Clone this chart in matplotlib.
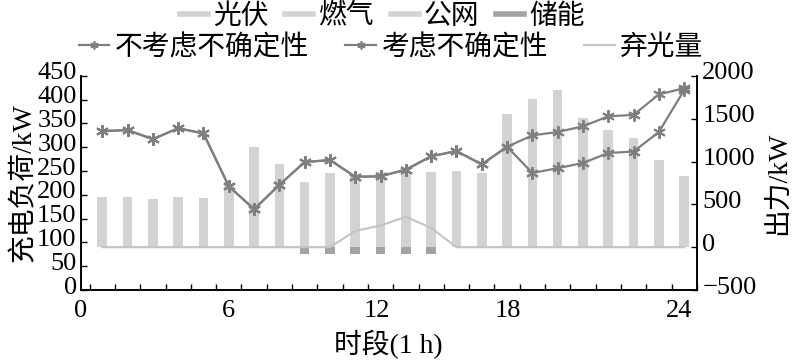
import numpy as np
import matplotlib.pyplot as plt
from matplotlib.lines import Line2D
from matplotlib.transforms import ScaledTranslation

plt.rcParams['font.family'] = ['Liberation Serif', 'Noto Sans CJK SC']
plt.rcParams['axes.unicode_minus'] = True

# hourly slots (bars and lines sit at the middle of each hour)
hours = np.arange(24) + 0.5

# output, kW (right axis)
pv = [0, 0, 0, 0, 0, 20, 80, 200, 330, 450, 520, 560, 570, 560, 520, 420, 280, 120, 20, 0, 0, 0, 0, 0]
gas = [155, 155, 155, 155, 155, 155, 155, 155, 155, 155, 155, 155, 155, 155, 155, 155, 155, 155, 155, 155, 155, 155, 155, 155]
grid = [428, 432, 412, 435, 424, 552, 931, 617, 280, 265, 165, 167, 145, 163, 215, 287, 1117, 1455, 1664, 1350, 1217, 1120, 863, 673]
storage = [0, 0, 0, 0, 0, 0, 0, 0, -75, -75, -75, -75, -75, -75, 0, 0, 0, 0, 0, 0, 0, 0, 0, 0]
curtail = [0, 0, 0, 0, 0, 0, 0, 0, 0, 0, 190, 253, 355, 225, 0, 0, 0, 0, 0, 0, 0, 0, 0, 0]

# charging load, kW (left axis)
load_no_unc = [334, 336, 317, 340, 329, 218, 170, 221, 269, 273, 238, 239, 253, 281, 292, 264, 301,
               325, 332, 344, 365, 368, 411, 424]
load_unc = [334, 336, 317, 340, 329, 218, 170, 221, 269, 273, 238, 239, 253, 281, 292, 264, 301,
            246, 256, 267, 288, 291, 332, 420]

xlabels = ['0', '6', '12', '18', '24']
xlabel_pos = [-0.35, 5.47, 11.34, 16.55, 23.3]   # labels sit left of their ticks in the original

fs = 19
bar_c = '#d3d3d3'
dark = '#a3a3a3'
line_c = '#7f7f7f'
curt_c = '#c4c4c4'

fig = plt.figure(figsize=(8, 3.63), dpi=100)
ax = fig.add_axes([0.101, 0.201, 0.770, 0.590])
ax2 = ax.twinx()
ax.set_zorder(ax2.get_zorder() + 1)
ax.patch.set_visible(False)

w = 0.38
b1 = np.array(pv)
b2 = b1 + np.array(gas)
ax2.bar(hours, pv, w, color=bar_c, edgecolor='none')
ax2.bar(hours, gas, w, bottom=b1, color=bar_c, edgecolor='none')
ax2.bar(hours, grid, w, bottom=b2, color=bar_c, edgecolor='none')
ax2.bar(hours, storage, w, color=dark, edgecolor='none')
ax2.plot(hours, curtail, color=curt_c, lw=1.5)
ax2.set_ylim(-500, 2000)
ax2.set_yticks([-500, 0, 500, 1000, 1500, 2000])

mk = (6, 2, 0)
ax.plot(hours, load_no_unc, color=line_c, lw=1.6, marker=mk, ms=9, mew=1.4)
ax.plot(hours, load_unc, color=line_c, lw=1.6, marker=mk, ms=9, mew=1.4)
ax.set_ylim(0, 450)
ax.set_yticks(np.arange(0, 451, 50))
ax.set_xlim(0, 24)

ax.set_xticks(np.arange(0, 25), minor=True)
ax.set_xticks(xlabel_pos)
ax.set_xticklabels(xlabels)
ax.tick_params(axis='x', which='major', length=0, pad=7, labelsize=fs)
ax.tick_params(axis='x', which='minor', direction='in', length=4, width=1)
ax.tick_params(axis='y', direction='in', length=4, width=1, pad=3, labelsize=fs)
ax2.tick_params(axis='y', direction='in', length=4, width=1, pad=4, labelsize=fs)

for a in (ax, ax2):
    a.spines['top'].set_visible(False)
    for s in ('left', 'right', 'bottom'):
        a.spines[s].set_linewidth(1.2)

# tick labels on the y axes sit a little above their ticks
up = ScaledTranslation(0, 5 / 100, fig.dpi_scale_trans)
for lab in ax.get_yticklabels() + ax2.get_yticklabels():
    lab.set_transform(lab.get_transform() + up)

ax.set_ylabel('充电负荷/kW', fontsize=20, labelpad=0)
ax2.set_ylabel('出力/kW', fontsize=20, labelpad=6)
ax.set_xlabel('时段(1 h)', fontsize=20, labelpad=6)

lfs = 20
h1 = [Line2D([], [], color=bar_c, lw=4), Line2D([], [], color=bar_c, lw=4),
      Line2D([], [], color=bar_c, lw=4), Line2D([], [], color=dark, lw=4)]
fig.legend(h1, ['光伏', '燃气', '公网', '储能'], loc='center', bbox_to_anchor=(0.478, 0.955),
           ncol=4, frameon=False, fontsize=lfs, handlelength=1.0, handletextpad=0.2,
           columnspacing=0.6, borderpad=0)
h2 = [Line2D([], [], color=line_c, lw=1.6, marker=mk, ms=6, mew=1.2),
      Line2D([], [], color=line_c, lw=1.6, marker=mk, ms=6, mew=1.2),
      Line2D([], [], color=curt_c, lw=1.5)]
fig.legend(h2, ['不考虑不确定性', '考虑不确定性', '弃光量'], loc='center', bbox_to_anchor=(0.489, 0.868),
           ncol=3, frameon=False, fontsize=lfs, handlelength=1.1, handletextpad=0.2,
           columnspacing=1.3, borderpad=0)

fig.savefig('out.png', dpi=100)
